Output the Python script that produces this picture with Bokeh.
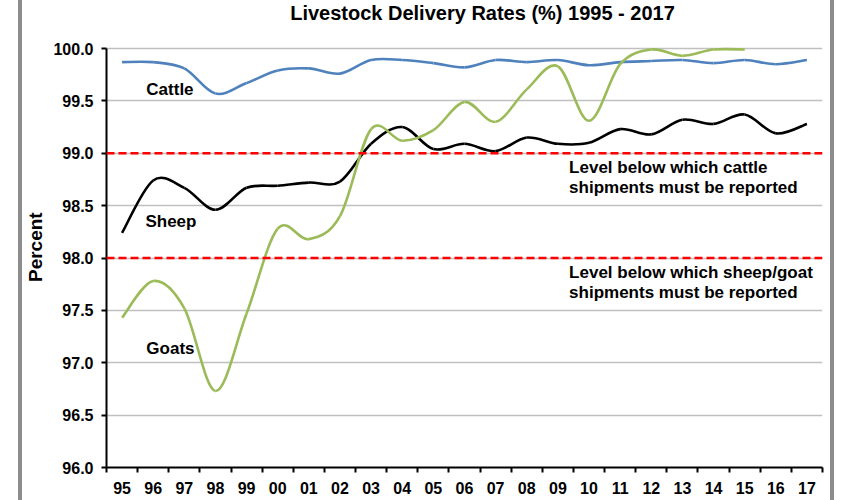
from bokeh.plotting import figure
from bokeh.models import Range1d, FixedTicker, NumeralTickFormatter, Span, ColumnDataSource
from bokeh.core.properties import value
from bokeh.embed import file_html
from bokeh.resources import INLINE

# Two-digit year labels, 1995 - 2017
years = ["95", "96", "97", "98", "99", "00", "01", "02", "03", "04", "05", "06",
         "07", "08", "09", "10", "11", "12", "13", "14", "15", "16", "17"]

# Delivery rates (%) per year
cattle = [99.87, 99.87, 99.81, 99.57, 99.67, 99.79, 99.81, 99.76, 99.89, 99.89, 99.86, 99.82,
          99.89, 99.87, 99.89, 99.84, 99.87, 99.88, 99.89, 99.86, 99.89, 99.85, 99.89]
sheep = [98.24, 98.74, 98.67, 98.46, 98.67, 98.69, 98.72, 98.73, 99.09, 99.25, 99.04, 99.09,
         99.02, 99.15, 99.09, 99.10, 99.23, 99.18, 99.32, 99.28, 99.37, 99.19, 99.28]
goats = [97.43, 97.78, 97.52, 96.73, 97.47, 98.28, 98.18, 98.40, 99.23, 99.12, 99.22, 99.49,
         99.30, 99.61, 99.83, 99.31, 99.85, 99.99, 99.93, 99.99, 99.99]

# Reporting thresholds
cattle_threshold = 99.0
sheep_goat_threshold = 98.0

title_text = "Livestock Delivery Rates (%) 1995 - 2017"

FONT = "Liberation Sans"
W, H = 816, 500
BORDER_BOTTOM = 33
HEAD_ROOM = 48            # pixels kept free above the 100.0 line for the heading
Y_LO, Y_HI = 96.0, 100.0

frame_h = H - BORDER_BOTTOM
y_top = Y_HI + (Y_HI - Y_LO) * HEAD_ROOM / (frame_h - HEAD_ROOM)

p = figure(width=W, height=H, output_backend="svg", toolbar_location=None, title_location=None,
           x_range=Range1d(0, len(years)), y_range=Range1d(Y_LO, y_top),
           min_border_left=82, min_border_right=16, min_border_top=0,
           min_border_bottom=BORDER_BOTTOM)
p.styles = {"margin-left": "18px", "border-left": "4px solid #8c8c8c",
            "border-right": "4px solid #8c8c8c"}
p.outline_line_color = None
p.background_fill_color = "white"
p.border_fill_color = "white"

# Category centres carry the labels, category boundaries carry the tick marks
centers = [i + 0.5 for i in range(len(years))]
bounds = list(range(len(years) + 1))
xa = p.xaxis[0]
xa.ticker = FixedTicker(ticks=centers, minor_ticks=bounds)
xa.major_label_overrides = {c: y for c, y in zip(centers, years)}
xa.major_tick_out = 0
xa.major_tick_in = 0
xa.minor_tick_out = 5
xa.minor_tick_in = 0
xa.minor_tick_line_width = 2
xa.axis_line_width = 2
xa.major_label_text_font = FONT
xa.major_label_text_font_size = "16px"
xa.major_label_text_font_style = "bold"
xa.major_label_text_color = "black"
xa.major_label_standoff = 9

ya = p.yaxis[0]
ya.bounds = (Y_LO, Y_HI)
ya.ticker = FixedTicker(ticks=[Y_LO + 0.5 * i for i in range(9)], minor_ticks=[])
ya.formatter = NumeralTickFormatter(format="0.0")
ya.major_tick_out = 5
ya.major_tick_in = 0
ya.major_tick_line_width = 2
ya.axis_line_width = 2
ya.major_label_text_font = FONT
ya.major_label_text_font_size = "16px"
ya.major_label_text_font_style = "bold"
ya.major_label_text_color = "black"
ya.major_label_standoff = 8
# trailing no-break spaces keep the rotated label centred on the 96-100 span
ya.axis_label = "Percent" + "\u00a0" * 5
ya.axis_label_text_font = FONT
ya.axis_label_text_font_size = "19px"
ya.axis_label_text_font_style = "bold"
ya.axis_label_text_color = "black"
ya.axis_label_standoff = 4

p.xgrid.grid_line_color = None
p.ygrid.grid_line_color = "#c0c0c0"
p.ygrid.grid_line_width = 1.5


def smooth_segments(xs, ys):
    """Cubic Bezier pieces through every point (Catmull-Rom style smoothing)."""
    n = len(xs)
    d = dict(x0=[], y0=[], x1=[], y1=[], cx0=[], cy0=[], cx1=[], cy1=[])
    for i in range(n - 1):
        a = i - 1 if i > 0 else i
        b = i + 2 if i + 2 < n else i + 1
        d["x0"].append(xs[i]); d["y0"].append(ys[i])
        d["x1"].append(xs[i + 1]); d["y1"].append(ys[i + 1])
        d["cx0"].append(xs[i] + (xs[i + 1] - xs[a]) / 6)
        d["cy0"].append(ys[i] + (ys[i + 1] - ys[a]) / 6)
        d["cx1"].append(xs[i + 1] - (xs[b] - xs[i]) / 6)
        d["cy1"].append(ys[i + 1] - (ys[b] - ys[i]) / 6)
    return ColumnDataSource(d)


for series, color in [(cattle, "#4f81bd"), (sheep, "black"), (goats, "#9bbb59")]:
    src = smooth_segments(centers[:len(series)], series)
    p.bezier(x0="x0", y0="y0", x1="x1", y1="y1", cx0="cx0", cy0="cy0", cx1="cx1", cy1="cy1",
             source=src, line_color=color, line_width=2.6)

for level in (cattle_threshold, sheep_goat_threshold):
    p.add_layout(Span(location=level, dimension="width", line_color="#ff0000",
                      line_width=2.5, line_dash="8 4"))

# Heading, in the free band above the 100.0 line
p.text(x=[5.9], y=[Y_HI + (y_top - Y_HI) * 0.75], text=[title_text],
       text_font=value(FONT), text_font_size="20px", text_font_style="bold",
       text_baseline="middle", text_align="left", text_color="black")

# Series names and threshold notes
notes = [
    (1.28, 99.61, "Cattle"),
    (1.25, 98.35, "Sheep"),
    (1.28, 97.14, "Goats"),
    (14.86, 98.86, "Level below which cattle"),
    (14.86, 98.67, "shipments must be reported"),
    (14.86, 97.86, "Level below which sheep/goat"),
    (14.86, 97.67, "shipments must be reported"),
]
p.text(x=[n[0] for n in notes], y=[n[1] for n in notes], text=[n[2] for n in notes],
       text_font=value(FONT), text_font_size="17px", text_font_style="bold",
       text_baseline="middle", text_align="left", text_color="black")

open("out.html", "w").write(file_html(p, INLINE))
